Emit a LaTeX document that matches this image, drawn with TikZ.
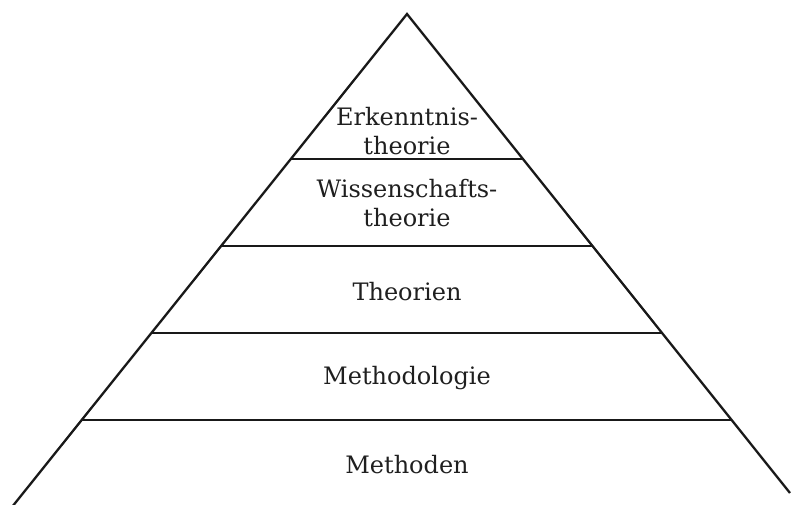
\documentclass[tikz,border=0pt]{standalone}
\usepackage{fontspec}
\setmainfont{DejaVu Serif}

\begin{document}
\begin{tikzpicture}[x=1pt,y=-1pt,line width=2.3pt,
    layer/.style={text=black!88,align=center,font=\fontsize{24}{29}\selectfont}]
    \useasboundingbox (0,0) rectangle (793,505);
    
    \coordinate (top) at (407,14);
    \coordinate (bl) at (12,507);
    \coordinate (br) at (790,493);
    
    \draw[black!90] (bl) -- (top) -- (br);
    
    % steps of the pyramid
    \foreach \y in {159,246,333,420}{
        \pgfmathsetmacro\hw{0.8*(\y-14)}
        \draw[black!90] (407-\hw,\y) -- (407+\hw,\y);
    }
    
    \node[layer] (erk) at (407,131) {Erkenntnis-\\theorie};
    \node[layer] (wiss) at (407,203) {Wissenschafts-\\theorie};
    \node[layer] (theo) at (407,292) {Theorien};
    \node[layer] (mlogie) at (407,378) {Methodologie};
    \node[layer] (mden) at (407,465) {Methoden};
\end{tikzpicture}
\end{document}
